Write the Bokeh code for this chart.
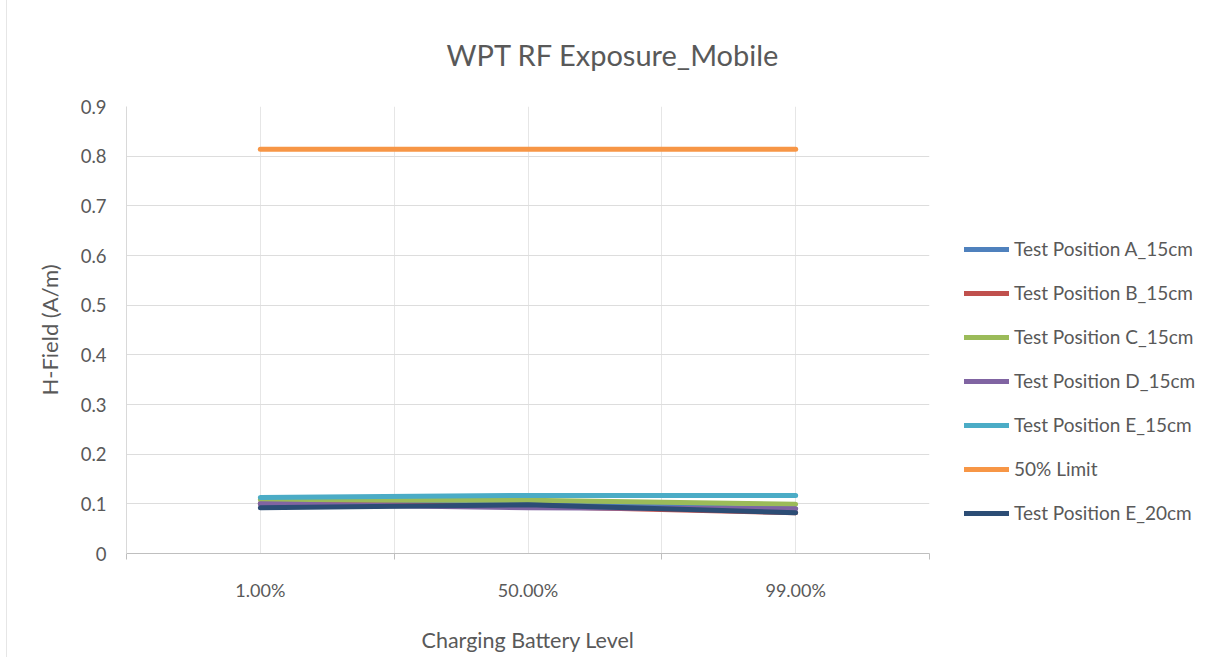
from bokeh.plotting import figure
from bokeh.models import (Range1d, FixedTicker, CustomJSTickFormatter, Legend,
                          LegendItem, Title)
from bokeh.embed import file_html
from bokeh.resources import INLINE

categories = ["1.00%", "50.00%", "99.00%"]
pos_a_15 = [0.100, 0.100, 0.090]
pos_b_15 = [0.100, 0.095, 0.082]
pos_c_15 = [0.108, 0.107, 0.099]
pos_d_15 = [0.100, 0.092, 0.090]
pos_e_15 = [0.113, 0.117, 0.117]
limit_50 = [0.814, 0.814, 0.814]
pos_e_20 = [0.092, 0.098, 0.082]
y_ticks = [0, 0.1, 0.2, 0.3, 0.4, 0.5, 0.6, 0.7, 0.8, 0.9]

series = [
    ("Test Position A_15cm", pos_a_15, "#4F81BD"),
    ("Test Position B_15cm", pos_b_15, "#C0504D"),
    ("Test Position C_15cm", pos_c_15, "#9BBB59"),
    ("Test Position D_15cm", pos_d_15, "#8064A2"),
    ("Test Position E_15cm", pos_e_15, "#4BACC6"),
    ("50% Limit", limit_50, "#F79646"),
    ("Test Position E_20cm", pos_e_20, "#2C4D75"),
]

FONT = "Lato"
TXT = "#595959"

n = len(categories)
xs = [i + 0.5 for i in range(n)]

p = figure(frame_width=803, frame_height=447, output_backend="svg",
           toolbar_location=None,
           x_range=Range1d(0, n), y_range=Range1d(0, 0.9),
           min_border_left=119, min_border_right=0, min_border_top=102,
           min_border_bottom=104, outline_line_color=None)
p.styles = {"margin-left": "6px", "margin-top": "-1px",
            "border-left": "1px solid #e6e6e6"}

p.title = Title(text="WPT RF Exposure_Mobile", align="left", offset=320,
                standoff=70, text_font=FONT, text_font_size="29px",
                text_font_style="normal", text_color=TXT)

# x axis: labels at category centers, ticks at boundaries
p.xaxis.ticker = FixedTicker(ticks=xs, minor_ticks=list(range(n + 1)))
p.xaxis.major_label_overrides = {x: c for x, c in zip(xs, categories)}
p.xaxis.major_tick_line_color = None
p.xaxis.major_tick_out = 0
p.xaxis.major_tick_in = 0
p.xaxis.minor_tick_line_color = "#BFBFBF"
p.xaxis.minor_tick_out = 6
p.xaxis.minor_tick_in = 0
p.xaxis.axis_line_color = "#BFBFBF"
p.xaxis.major_label_standoff = 19
p.xaxis.major_label_text_font = FONT
p.xaxis.major_label_text_font_size = "18px"
p.xaxis.major_label_text_color = TXT
p.xaxis.axis_label = "Charging Battery Level"
p.xaxis.axis_label_standoff = 23
p.xaxis.axis_label_text_font = FONT
p.xaxis.axis_label_text_font_size = "21.5px"
p.xaxis.axis_label_text_font_style = "normal"
p.xaxis.axis_label_text_color = TXT

p.xgrid.ticker = FixedTicker(ticks=[i * 0.5 for i in range(2 * n + 1)])
p.xgrid.grid_line_color = "#E6E6E6"

p.yaxis.ticker = FixedTicker(ticks=y_ticks)
p.yaxis.formatter = CustomJSTickFormatter(code="return tick.toFixed(1).replace(/\\.0$/, '');")
p.yaxis.major_tick_line_color = None
p.yaxis.major_tick_out = 0
p.yaxis.major_tick_in = 0
p.yaxis.minor_tick_line_color = None
p.yaxis.axis_line_color = "#D9D9D9"
p.yaxis.major_label_standoff = 20
p.yaxis.major_label_text_font = FONT
p.yaxis.major_label_text_font_size = "18.5px"
p.yaxis.major_label_text_color = TXT
p.yaxis.axis_label = "H-Field (A/m)"
p.yaxis.axis_label_standoff = 15
p.yaxis.axis_label_text_font = FONT
p.yaxis.axis_label_text_font_size = "22px"
p.yaxis.axis_label_text_font_style = "normal"
p.yaxis.axis_label_text_color = TXT
p.ygrid.grid_line_color = "#DDDDDD"

items = []
for name, vals, color in series:
    r = p.line(xs, vals, line_color=color, line_width=5, line_cap="round",
               line_join="round")
    items.append(LegendItem(label=name, renderers=[r]))

legend = Legend(items=items, location=(35, 29), padding=0, margin=0,
                spacing=21, glyph_width=45, glyph_height=20, label_height=20,
                label_standoff=5, border_line_color=None,
                background_fill_alpha=0, label_text_font=FONT,
                label_text_font_size="19px", label_text_color=TXT)
p.add_layout(legend, "right")

open("out.html", "w").write(file_html(p, INLINE))
